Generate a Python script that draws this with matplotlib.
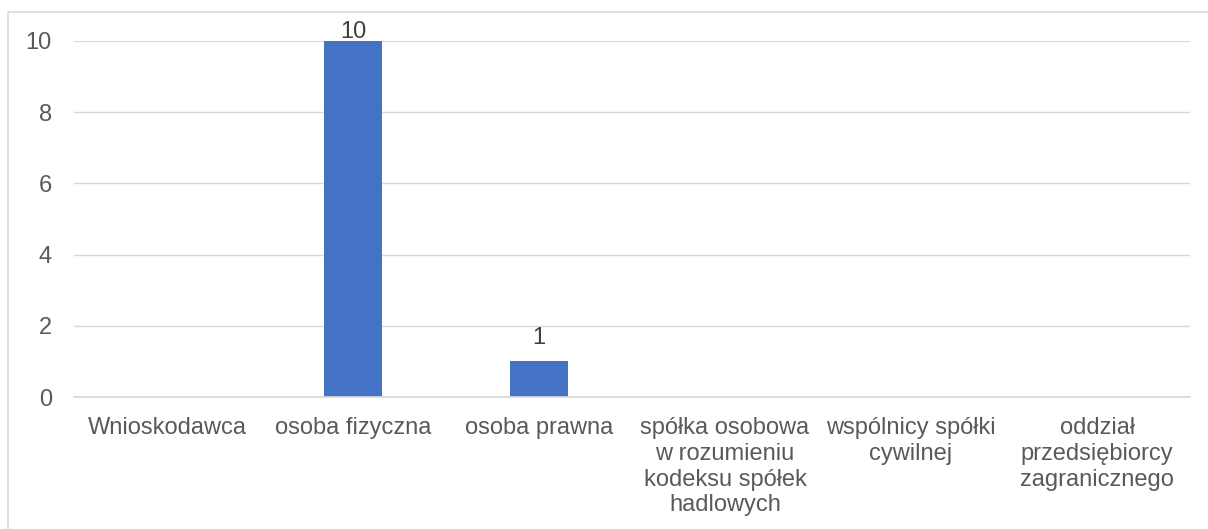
import matplotlib.pyplot as plt
from matplotlib.patches import Rectangle
import numpy as np

categories = ["Wnioskodawca", "osoba fizyczna", "osoba prawna",
              "spółka osobowa\nw rozumieniu\nkodeksu spółek\nhadlowych",
              "wspólnicy spółki\ncywilnej",
              "oddział\nprzedsiębiorcy\nzagranicznego"]
values = [np.nan, 10, 1, np.nan, np.nan, np.nan]
yticks = [0, 2, 4, 6, 8, 10]

plt.rcParams['font.family'] = ['Liberation Sans', 'DejaVu Sans']
text_color = '#595959'
grid_color = '#d9d9d9'

fig = plt.figure(figsize=(12.08, 5.29), dpi=100)
ax = fig.add_axes([0.0613, 0.2495, 0.9238, 0.673])

x = np.arange(len(categories))
ax.bar(x, values, width=0.31, color='#4472c4', zorder=3)

ymax = max(yticks)
for xi, v in zip(x, values):
    if not np.isnan(v):
        # labels hitting the top of the plot area get squeezed down
        off = 9 if v < ymax else -1.5
        ax.annotate(f"{v:g}", (xi, v), xytext=(0, off), textcoords='offset points',
                    ha='center', va='bottom', fontsize=17, color='#404040',
                    annotation_clip=False)

ax.set_xlim(-0.5, len(categories) - 0.5)
ax.set_ylim(0, ymax)
ax.set_yticks(yticks)
ax.set_xticks(x)
ax.set_xticklabels(categories, fontsize=17, color=text_color, linespacing=1.22)
ax.tick_params(axis='y', labelsize=17, labelcolor=text_color, length=0, pad=16)
ax.tick_params(axis='x', length=0, pad=14.5)

ax.yaxis.grid(True, color=grid_color, linewidth=1, zorder=0)
for s in ['top', 'right', 'left']:
    ax.spines[s].set_visible(False)
ax.spines['bottom'].set_color(grid_color)
ax.spines['bottom'].set_linewidth(1.3)
ax.spines['bottom'].set_zorder(4)

# chart frame (top and left edges visible)
fig.patches.append(Rectangle((8 / 1208, -0.05), 1.2, 1 - 12 / 529 + 0.05,
                             transform=fig.transFigure, fill=False,
                             edgecolor=grid_color, linewidth=1.2))

fig.savefig('out.png', dpi=100)
